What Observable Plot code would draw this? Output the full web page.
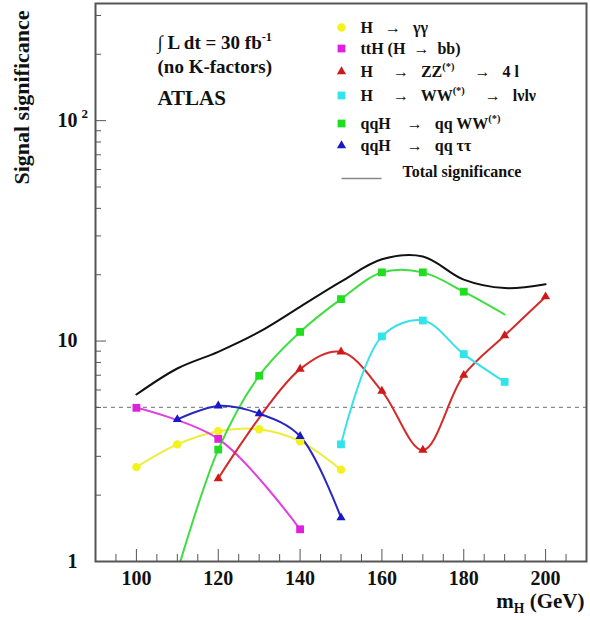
<!DOCTYPE html>
<html>
<head>
<meta charset="utf-8">
<script src="https://cdn.jsdelivr.net/npm/d3@7"></script>
<script src="https://cdn.jsdelivr.net/npm/@observablehq/plot@0.6"></script>
<style>
  html, body { margin: 0; padding: 0; background: #fff; }
  svg text { white-space: pre; }
</style>
</head>
<body>
<div id="chart"></div>
<script>
// ---------------- data ----------------
const massGG   = [100, 110, 120, 130, 140, 150];
const sigGG    = [2.68, 3.40, 3.90, 3.98, 3.51, 2.61];
const massTTH  = [100, 120, 140];
const sigTTH   = [4.98, 3.60, 1.40];
const massZZ   = [120, 140, 150, 160, 170, 180, 190, 200];
const sigZZ    = [2.38, 7.46, 8.94, 5.93, 3.20, 7.00, 10.6, 15.9];
const massWW   = [150, 160, 170, 180, 190];
const sigWW    = [3.40, 10.5, 12.4, 8.73, 6.53];
const massQQWW = [110, 120, 130, 140, 150, 160, 170, 180, 190];
const sigQQWW  = [0.90, 3.22, 6.96, 11.0, 15.5, 20.5, 20.5, 16.75, 13.2];
const markQQWW = [true, true, true, true, true, true, true, true, false];
const massQQTT = [110, 120, 130, 140, 150];
const sigQQTT  = [4.41, 5.08, 4.69, 3.70, 1.58];
const massTotal = [100, 110, 120, 130, 140, 150, 160, 170, 180, 190, 200];
const sigTotal  = [5.72, 7.51, 8.94, 11.0, 14.3, 18.6, 23.5, 24.2, 19.0, 17.4, 18.1];
const discoveryLevel = [5];

const seriesLabels = [
  "H   →   γγ",
  "ttH (H  →  bb)",
  "H     →   ZZ^{(*)}     →   4 l",
  "H     →   WW^{(*)}     →   lνlν",
  "qqH    →   qq WW^{(*)}",
  "qqH    →   qq ττ"
];
const totalLabel = "Total significance";
const infoLines = ["∫ L dt = 30 fb^{-1}", "(no K-factors)", "ATLAS"];
const yAxisTitle = "Signal significance";
const xAxisTitle = "m_{H} (GeV)";

const xTickValues = [100, 120, 140, 160, 180, 200];
const xMinorTicks = [95, 105, 110, 115, 125, 130, 135, 145, 150, 155, 165, 170, 175, 185, 190, 195, 205];
const yTickValues = [1, 10, 100];
const yTickLabels = ["1", "10", "10"];
const yMinorTicks = [2, 3, 4, 5, 6, 7, 8, 9, 20, 30, 40, 50, 60, 70, 80, 90, 200, 300];

// ---------------- styling ----------------
const W = 590, H = 620, mL = 95, mR = 4, mT = 3, mB = 59;
const plotW = W - mL - mR, plotH = H - mT - mB;
const serif = "'Liberation Serif', 'Times New Roman', serif";

const series = [
  {mass: massGG,   sig: sigGG,   line: "#eded3a", fill: "#f2f21c", symbol: "circle",   r: 4.2},
  {mass: massTTH,  sig: sigTTH,  line: "#e040e0", fill: "#e020e0", symbol: "square",   r: 4.4},
  {mass: massZZ,   sig: sigZZ,   line: "#d42a2a", fill: "#d01818", symbol: "triangle", r: 3.4},
  {mass: massWW,   sig: sigWW,   line: "#38e0e8", fill: "#30e4ec", symbol: "square",   r: 4.4},
  {mass: massQQWW, sig: sigQQWW, line: "#40dd40", fill: "#20dd20", symbol: "square",   r: 4.4, marks: markQQWW},
  {mass: massQQTT, sig: sigQQTT, line: "#2828c0", fill: "#1818c8", symbol: "triangle", r: 3.4}
];

const at = (px, py) => ({frameAnchor: "top-left", dx: px - mL, dy: py - mT});

const marks = [];

// 5-sigma dashed line
marks.push(Plot.ruleY(discoveryLevel, {y: d => d, stroke: "#8a8a8a", strokeWidth: 1.3, strokeDasharray: "4,4"}));

// total significance
const totalRows = massTotal.map((m, i) => ({m, v: sigTotal[i]}));
marks.push(Plot.line(totalRows, {x: "m", y: "v", stroke: "#111", strokeWidth: 2, curve: "catmull-rom", clip: true}));

// series lines and markers
series.forEach(s => {
  const rows = s.mass.map((m, i) => ({m, v: s.sig[i]}));
  marks.push(Plot.line(rows, {x: "m", y: "v", stroke: s.line, strokeWidth: 2, curve: "catmull-rom", clip: true}));
});
series.forEach(s => {
  const rows = s.mass.map((m, i) => ({m, v: s.sig[i], show: s.marks ? s.marks[i] : true})).filter(d => d.show);
  marks.push(Plot.dot(rows, {x: "m", y: "v", symbol: s.symbol, fill: s.fill, r: s.r, clip: true}));
});

// inner ticks
marks.push(Plot.tickX(xMinorTicks, {x: d => d, insetTop: plotH - 7, stroke: "#555", strokeWidth: 1}));
marks.push(Plot.tickX(xTickValues, {x: d => d, insetTop: plotH - 12, stroke: "#555", strokeWidth: 1}));
marks.push(Plot.tickY(yMinorTicks, {y: d => d, insetRight: plotW - 6, stroke: "#555", strokeWidth: 1}));
marks.push(Plot.tickY(yTickValues, {y: d => d, insetRight: plotW - 11, stroke: "#555", strokeWidth: 1}));

// axes labels
marks.push(Plot.axisX({ticks: xTickValues, tickSize: 0, tickPadding: 9, label: null, fontSize: 20, tickFormat: d => String(d)}));
marks.push(Plot.text(yTickValues, {y: d => d, frameAnchor: "left", dx: -18, text: (d, i) => yTickLabels[i], textAnchor: "end", lineAnchor: "middle", fontSize: 20}));
marks.push(Plot.text([100], {y: d => d, frameAnchor: "left", dx: -14, dy: -7, text: () => "2", textAnchor: "start", lineAnchor: "middle", fontSize: 13}));
marks.push(Plot.text([yAxisTitle], {...at(21, 97), text: d => d, rotate: -90, textAnchor: "middle", lineAnchor: "middle", fontSize: 22}));
marks.push(Plot.text([xAxisTitle], {...at(584, 607), text: d => d, textAnchor: "end", lineAnchor: "bottom", fontSize: 21}));

// info text
marks.push(Plot.text([infoLines[0]], {...at(157, 48), text: d => d, textAnchor: "start", lineAnchor: "bottom", fontSize: 19}));
marks.push(Plot.text([infoLines[1]], {...at(157, 72), text: d => d, textAnchor: "start", lineAnchor: "bottom", fontSize: 19}));
marks.push(Plot.text([infoLines[2]], {...at(157, 104), text: d => d, textAnchor: "start", lineAnchor: "bottom", fontSize: 21}));

// legend
const legendRowsY = [27, 48, 71, 95, 123, 145];
series.forEach((s, i) => {
  marks.push(Plot.dot([s], {...at(341, legendRowsY[i]), symbol: s.symbol, fill: s.fill, r: s.r}));
  marks.push(Plot.text([seriesLabels[i]], {...at(360, legendRowsY[i]), text: d => d, textAnchor: "start", lineAnchor: "middle", fontSize: 16}));
});
const lineSymbol = {draw(ctx) { ctx.moveTo(-20, 0); ctx.lineTo(20, 0); }};
marks.push(Plot.dot([totalLabel], {...at(361, 178), symbol: lineSymbol, stroke: "#888", strokeWidth: 1.5, fill: "none"}));
marks.push(Plot.text([totalLabel], {...at(402, 171), text: d => d, textAnchor: "start", lineAnchor: "middle", fontSize: 16}));

marks.push(Plot.frame({stroke: "#555", strokeWidth: 2}));

const plot = Plot.plot({
  width: W, height: H,
  marginLeft: mL, marginRight: mR, marginTop: mT, marginBottom: mB,
  x: {type: "linear", domain: [90, 210]},
  y: {type: "log", domain: [1, 340], axis: null},
  style: {fontFamily: serif, fontWeight: "bold", fontSize: "20px", color: "#111", background: "#fff"},
  marks
});
document.getElementById("chart").append(plot);

// render ^{..} and _{..} as raised / lowered tspans
const svgNS = "http://www.w3.org/2000/svg";
d3.select(plot).selectAll("text").each(function() {
  const s = this.textContent;
  if (!/[\^_]\{/.test(s)) return;
  const fs = parseFloat(getComputedStyle(this).fontSize) || 16;
  const parts = s.split(/([\^_]\{[^}]*\})/);
  this.textContent = "";
  let shift = 0;
  for (const p of parts) {
    if (!p) continue;
    const m = p.match(/^([\^_])\{([^}]*)\}$/);
    const t = document.createElementNS(svgNS, "tspan");
    if (m) {
      const target = m[1] === "^" ? -0.42 * fs : 0.28 * fs;
      if (target - shift !== 0) t.setAttribute("dy", target - shift);
      shift = target;
      t.setAttribute("font-size", 0.65 * fs);
      t.textContent = m[2];
    } else {
      if (shift !== 0) t.setAttribute("dy", -shift);
      shift = 0;
      t.textContent = p;
    }
    this.appendChild(t);
  }
});
</script>
</body>
</html>
